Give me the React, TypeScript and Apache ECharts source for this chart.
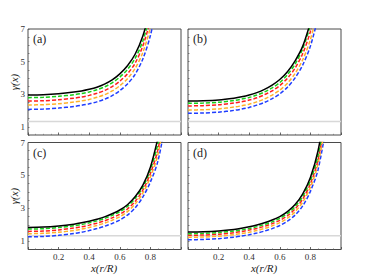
import React, { useEffect, useRef } from "react";
import * as echarts from "echarts";

const X = [0, 0.1, 0.2, 0.3, 0.35, 0.4, 0.45, 0.5, 0.55, 0.6, 0.65, 0.7, 0.75, 0.8, 0.85, 0.9];
const Y_TICK_LABELS = [1, 3, 5, 7];
const X_TICK_LABELS = [0.2, 0.4, 0.6, 0.8];
const GAMMA_REF = 4 / 3;
const PANEL_LABELS = ["(a)", "(b)", "(c)", "(d)"];

// each panel: black (solid), green, red, orange, blue (dashed)
const A_BLACK = [2.95, 2.97, 3.03, 3.13, 3.2, 3.3, 3.43, 3.62, 3.88, 4.25, 4.75, 5.45, 6.55, 8.25];
const A_GREEN = [2.79, 2.81, 2.87, 2.97, 3.04, 3.14, 3.27, 3.45, 3.7, 4.05, 4.52, 5.2, 6.25, 7.9];
const A_RED = [2.58, 2.6, 2.66, 2.76, 2.83, 2.93, 3.06, 3.23, 3.47, 3.8, 4.25, 4.9, 5.95, 7.5];
const A_ORANGE = [2.34, 2.36, 2.42, 2.52, 2.59, 2.68, 2.81, 2.97, 3.2, 3.52, 3.95, 4.58, 5.55, 7.1, 9.3];
const A_BLUE = [2.07, 2.09, 2.15, 2.25, 2.32, 2.41, 2.53, 2.69, 2.91, 3.22, 3.63, 4.22, 5.15, 6.6, 8.9];

const B_BLACK = [2.58, 2.6, 2.65, 2.76, 2.84, 2.95, 3.1, 3.3, 3.56, 3.9, 4.38, 5.05, 5.95, 7.4];
const B_GREEN = [2.44, 2.46, 2.51, 2.62, 2.7, 2.8, 2.95, 3.14, 3.39, 3.72, 4.2, 4.85, 5.8, 7.2];
const B_RED = [2.28, 2.3, 2.35, 2.46, 2.54, 2.64, 2.78, 2.97, 3.21, 3.53, 3.98, 4.6, 5.5, 6.85, 8.9];
const B_ORANGE = [2.03, 2.05, 2.1, 2.21, 2.29, 2.39, 2.53, 2.71, 2.95, 3.25, 3.68, 4.28, 5.12, 6.35, 8.2];
const B_BLUE = [1.83, 1.85, 1.9, 2.01, 2.09, 2.19, 2.33, 2.5, 2.73, 3.02, 3.43, 4.0, 4.8, 5.95, 7.7];

const C_BLACK = [1.84, 1.86, 1.93, 2.04, 2.12, 2.22, 2.34, 2.48, 2.67, 2.9, 3.22, 3.7, 4.4, 5.5, 7.3];
const C_GREEN = [1.74, 1.76, 1.83, 1.94, 2.02, 2.12, 2.24, 2.38, 2.57, 2.8, 3.12, 3.6, 4.28, 5.35, 6.95, 9.5];
const C_RED = [1.6, 1.62, 1.69, 1.8, 1.88, 1.98, 2.1, 2.24, 2.42, 2.64, 2.96, 3.42, 4.1, 5.12, 6.6, 9.3];
const C_ORANGE = [1.46, 1.48, 1.55, 1.66, 1.74, 1.84, 1.96, 2.1, 2.28, 2.49, 2.8, 3.26, 3.92, 4.9, 6.3, 9.0];
const C_BLUE = [1.27, 1.29, 1.36, 1.47, 1.55, 1.65, 1.77, 1.91, 2.08, 2.29, 2.59, 3.03, 3.68, 4.6, 5.9, 8.3];

const D_BLACK = [1.56, 1.58, 1.63, 1.72, 1.79, 1.88, 1.99, 2.12, 2.29, 2.5, 2.8, 3.23, 3.88, 4.88, 6.5, 9.2];
const D_GREEN = [1.46, 1.48, 1.53, 1.62, 1.69, 1.78, 1.89, 2.02, 2.18, 2.39, 2.68, 3.1, 3.73, 4.7, 6.2, 8.9];
const D_RED = [1.36, 1.38, 1.43, 1.52, 1.59, 1.68, 1.78, 1.91, 2.07, 2.27, 2.55, 2.96, 3.57, 4.5, 5.95, 8.6];
const D_ORANGE = [1.24, 1.26, 1.31, 1.4, 1.47, 1.55, 1.65, 1.78, 1.94, 2.13, 2.4, 2.79, 3.38, 4.28, 5.7, 8.2];
const D_BLUE = [1.09, 1.11, 1.16, 1.25, 1.32, 1.4, 1.5, 1.62, 1.77, 1.96, 2.22, 2.59, 3.15, 4.03, 5.35, 7.8];

const PANELS = [
  [A_BLACK, A_GREEN, A_RED, A_ORANGE, A_BLUE],
  [B_BLACK, B_GREEN, B_RED, B_ORANGE, B_BLUE],
  [C_BLACK, C_GREEN, C_RED, C_ORANGE, C_BLUE],
  [D_BLACK, D_GREEN, D_RED, D_ORANGE, D_BLUE],
];
const COLORS = ["#000000", "#18d018", "#ff1e1e", "#ffb22a", "#1f3dff"];

const FONT = "Liberation Serif";

export default function App() {
  const ref = useRef<HTMLDivElement>(null);
  useEffect(() => {
    if (!ref.current) return;
    const chart = echarts.init(ref.current, null, { renderer: "svg" });
    const gridPos = [
      { left: 28, top: 29, width: 153, height: 106 },
      { left: 188, top: 29, width: 153, height: 106 },
      { left: 28, top: 142.5, width: 153, height: 107 },
      { left: 188, top: 142.5, width: 153, height: 107 },
    ];
    const grid = gridPos.map((g) => ({
      ...g,
      show: true,
      borderColor: "#4a4a4a",
      borderWidth: 1,
      backgroundColor: "transparent",
    }));
    const xAxis = gridPos.map((_, i) => ({
      type: "value",
      gridIndex: i,
      min: 0,
      max: 1,
      interval: 0.2,
      axisLine: { show: false },
      splitLine: { show: false },
      axisTick: { show: true, inside: true, length: 2.5, lineStyle: { color: "#444", width: 0.8 } },
      minorTick: { show: true, splitNumber: 4, length: 1.2, lineStyle: { color: "#666", width: 0.6 } },
      axisLabel: {
        show: i >= 2,
        margin: 3,
        fontFamily: FONT,
        fontSize: 9,
        color: "#333",
        formatter: (v: number) =>
          X_TICK_LABELS.some((t) => Math.abs(t - v) < 1e-6) ? v.toFixed(1) : "",
      },
    }));
    const yAxis = gridPos.map((_, i) => ({
      type: "value",
      gridIndex: i,
      min: 0.5,
      max: 7,
      interval: 0.5,
      axisLine: { show: false },
      splitLine: { show: false },
      axisTick: { show: true, inside: true, length: 1.5, lineStyle: { color: "#555", width: 0.7 } },
      axisLabel: {
        show: i % 2 === 0,
        margin: 3,
        fontFamily: FONT,
        fontSize: 9,
        color: "#333",
        showMinLabel: true,
        showMaxLabel: true,
        formatter: (v: number) =>
          Y_TICK_LABELS.some((t) => Math.abs(t - v) < 1e-6) ? String(v) : "",
      },
    }));
    const series: any[] = [];
    PANELS.forEach((curves, p) => {
      series.push({
        type: "line",
        xAxisIndex: p,
        yAxisIndex: p,
        data: [
          [0, GAMMA_REF],
          [1, GAMMA_REF],
        ],
        symbol: "none",
        lineStyle: { color: "#d8d8d8", width: 1.5 },
        z: 1,
      });
      for (let k = curves.length - 1; k >= 0; k--) {
        const vals = curves[k];
        series.push({
          type: "line",
          xAxisIndex: p,
          yAxisIndex: p,
          data: vals.map((v, j) => [X[j], v]),
          symbol: "none",
          smooth: 0.3,
          clip: true,
          lineStyle: {
            color: COLORS[k],
            width: 1.5,
            type: k === 0 ? "solid" : [4, 2],
          },
          z: k === 0 ? 3 : 2,
        });
      }
    });
    const graphic: any[] = [];
    gridPos.forEach((g, i) => {
      graphic.push({
        type: "text",
        left: g.left + 5,
        top: g.top + 4,
        style: { text: PANEL_LABELS[i], font: `12px ${FONT}`, fill: "#222" },
      });
    });
    [82, 196].forEach((cy) => {
      graphic.push({
        type: "text",
        x: 14,
        y: cy,
        rotation: Math.PI / 2,
        style: {
          text: "γ(x)",
          font: `italic 11px ${FONT}`,
          fill: "#222",
          align: "center",
          verticalAlign: "middle",
        },
      });
    });
    [104, 264].forEach((cx) => {
      graphic.push({
        type: "text",
        x: cx,
        y: 268,
        style: {
          text: "x(r/R)",
          font: `italic 11px ${FONT}`,
          fill: "#222",
          align: "center",
          verticalAlign: "middle",
        },
      });
    });
    chart.setOption({
      animation: false,
      backgroundColor: "#ffffff",
      grid,
      xAxis,
      yAxis,
      series,
      graphic,
    });
    return () => chart.dispose();
  }, []);
  return (
    <div
      ref={ref}
      style={{ position: "absolute", left: 0, top: 0, width: 370, height: 279 }}
    />
  );
}
